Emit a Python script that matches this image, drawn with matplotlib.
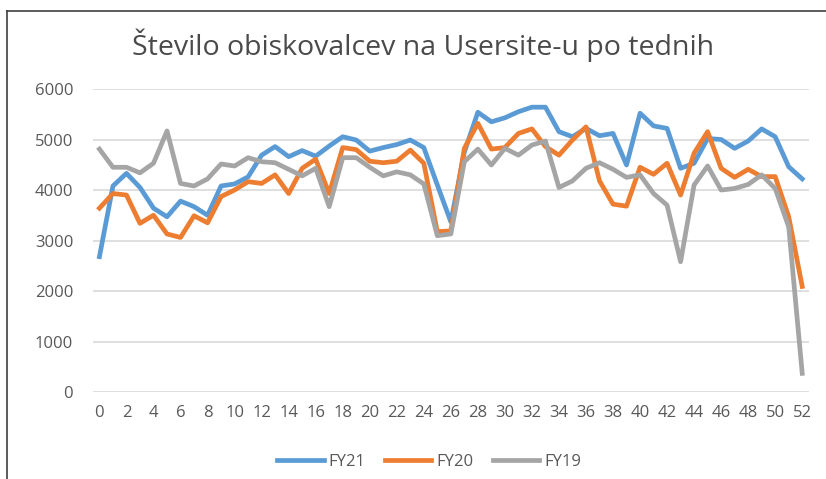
import numpy as np
import matplotlib
matplotlib.use("Agg")
import matplotlib.pyplot as plt
from matplotlib.lines import Line2D

# weeks and visitor counts per fiscal year
weeks = list(range(0, 53))
fy21 = [2680, 4080, 4330, 4050, 3640, 3470, 3780, 3670, 3500, 4080,
        4120, 4260, 4690, 4860, 4660, 4780, 4670, 4870, 5055, 4990,
        4770, 4840, 4900, 4990, 4840, 4100, 3370, 4750, 5540, 5350,
        5430, 5550, 5640, 5640, 5155, 5055, 5220, 5075, 5120, 4495,
        5520, 5270, 5220, 4430, 4530, 5020, 5000, 4825, 4970, 5210,
        5055, 4460, 4220]
fy20 = [3640, 3930, 3900, 3340, 3500, 3130, 3060, 3490, 3350, 3870,
        4000, 4165, 4130, 4300, 3930, 4430, 4610, 3930, 4840, 4800,
        4570, 4540, 4570, 4790, 4530, 3175, 3190, 4825, 5320, 4810,
        4840, 5120, 5210, 4860, 4690, 4990, 5250, 4180, 3720, 3680,
        4450, 4310, 4530, 3900, 4730, 5155, 4430, 4250, 4410, 4265,
        4265, 3470, 2090]
fy19 = [4810, 4450, 4450, 4340, 4530, 5170, 4130, 4080, 4220, 4515,
        4475, 4640, 4560, 4540, 4410, 4280, 4430, 3670, 4640, 4640,
        4450, 4280, 4360, 4300, 4120, 3095, 3130, 4560, 4810, 4495,
        4825, 4690, 4890, 4970, 4050, 4180, 4430, 4540, 4410, 4250,
        4300, 3930, 3700, 2580, 4100, 4475, 4000, 4030, 4110, 4300,
        4030, 3270, 370]

series = [("FY21", fy21, "#5B9BD5"), ("FY20", fy20, "#ED7D31"), ("FY19", fy19, "#A5A5A5")]
title = "Število obiskovalcev na Usersite-u po tednih"

plt.rcParams['font.family'] = ['Open Sans', 'DejaVu Sans']
txt = "#595959"

fig = plt.figure(figsize=(8.26, 4.79), dpi=100)
ax = fig.add_axes([0.1122, 0.1816, 0.9794 - 0.1122, 0.8142 - 0.1816])

for name, vals, col in series:
    ax.plot(weeks, vals, color=col, lw=3.4, label=name, solid_joinstyle="round")

ax.set_xlim(-0.5, 52.5)
ax.set_ylim(0, 6000)
ax.set_yticks(range(0, 6001, 1000))
ax.set_xticks(range(0, 53, 2))
ax.grid(axis="y", color="#D9D9D9", lw=1.2)
ax.set_axisbelow(True)
for s in ax.spines.values():
    s.set_visible(False)
ax.tick_params(length=0, labelsize=12, colors=txt)
ax.tick_params(axis="y", pad=14)
ax.tick_params(axis="x", pad=9)

fig.text(423 / 826, 1 - 45 / 479, title, ha="center", va="center",
         fontsize=20.5, color="#4a4a4a")

fig.legend(loc="center", bbox_to_anchor=(429 / 826, 1 - 462 / 479), ncol=3,
           frameon=False, fontsize=12, labelcolor=txt, handlelength=2.8,
           columnspacing=1.15, handletextpad=0.3)

# chart frame (cropped at right and bottom)
fig.add_artist(Line2D([7 / 826, 7 / 826], [0, 1 - 11 / 479], transform=fig.transFigure,
                      color="#404040", lw=1.2))
fig.add_artist(Line2D([7 / 826, 1], [1 - 11 / 479, 1 - 11 / 479], transform=fig.transFigure,
                      color="#404040", lw=1.2))

fig.savefig("out.png", dpi=100, facecolor="white")
